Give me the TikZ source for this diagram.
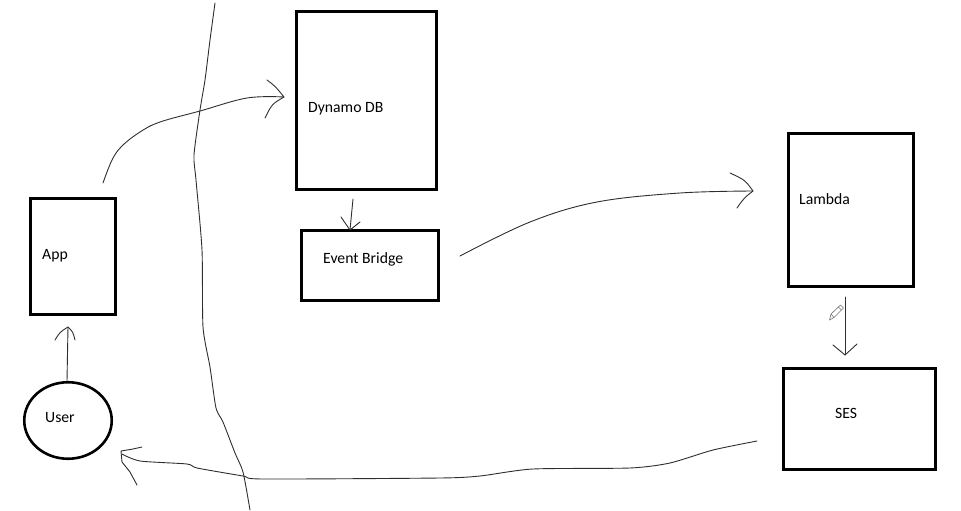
\documentclass[tikz,border=0pt]{standalone}
\usepackage{fontspec}
\setmainfont{Carlito}
\usetikzlibrary{shapes.geometric}
\tikzset{
  box/.style={draw=black, line width=3pt, inner sep=0pt, fill=none},
  usr/.style={draw=black, line width=2.6pt, ellipse, inner sep=0pt},
  lbl/.style={anchor=base west, inner sep=0pt, font=\fontsize{15.7}{17}\selectfont},
  pen/.style={draw=black!82, line width=0.9pt, line join=round, line cap=round},
}
\begin{document}
\begin{tikzpicture}[x=1pt,y=-1pt]
\useasboundingbox (0,0) rectangle (961,511);
% boxes
\node[box, minimum width=85pt, minimum height=116pt] (app) at (73,256.5) {};
\node[box, minimum width=140pt, minimum height=178pt] (ddb) at (366.5,100.5) {};
\node[box, minimum width=137pt, minimum height=70pt] (eb) at (370,265.5) {};
\node[box, minimum width=125pt, minimum height=153pt] (lam) at (851,210) {};
\node[box, minimum width=152pt, minimum height=101pt] (ses) at (859.5,419) {};
\node[usr, minimum width=87.5pt, minimum height=76.5pt] (user) at (68,420.5) {};
% labels
\node[lbl] (tapp) at (42,259) {App};
\node[lbl] (tuser) at (45,422) {User};
\node[lbl] (tddb) at (308,112) {Dynamo DB};
\node[lbl] (teb) at (323,263) {Event Bridge};
\node[lbl] (tlam) at (799,204) {Lambda};
\node[lbl] (tses) at (835,418) {SES};
% connector ends
\coordinate (ua) at (67,381);
\coordinate (ut) at (68,327);
\coordinate (as) at (103,183);
\coordinate (dt) at (284,97);
\coordinate (ds) at (353,199);
\coordinate (et) at (350,230);
\coordinate (es) at (460,256);
\coordinate (lt) at (753,191);
\coordinate (ls) at (845,297);
\coordinate (st) at (845,355);
\coordinate (ss) at (757,441);
\coordinate (ust) at (122,454);
% separator line
\draw[pen] plot[smooth, tension=0.4] coordinates {(215,3) (210,40) (205,80) (200,110) (194,155) (196,180) (202,250) (203,327) (210,367) (216,408) (223,422) (235,453) (243,472) (250,510)};
% User -> App
\draw[pen] (ua) -- (ut);
\draw[pen] (55,340) .. controls (60,332) .. (ut) .. controls (73,332) .. (75,340);
% App -> Dynamo DB
\draw[pen] plot[smooth, tension=0.6] coordinates {(as) (112,160) (122,146) (140,132) (160,122) (200,111) (247,98) (dt)};
\draw[pen] (267,80) .. controls (275,86) .. (dt) .. controls (272,104) .. (265,118);
% Dynamo DB -> Event Bridge
\draw[pen] (ds) -- (et);
\draw[pen] (341,217) -- (et) -- (360,222);
% Event Bridge -> Lambda
\draw[pen] plot[smooth, tension=0.6] coordinates {(es) (530,222) (597,202) (680,193) (lt)};
\draw[pen] (730,173) .. controls (745,180) .. (lt) .. controls (744,198) .. (737,208);
% Lambda -> SES
\draw[pen] (ls) -- (st);
\draw[pen] (833,345) -- (st) -- (857,344);
% SES -> User
\draw[pen] plot[smooth, tension=0.4] coordinates {(ss) (713,450) (670,463) (630,468) (533,469) (480,476) (440,478) (263,479) (243,476) (197,468) (187,464) (140,461) (ust)};
\draw[pen] (142,447) -- (133,449) -- (121,451) -- (122,462) -- (130,472) -- (137,485);
% pencil cursor
\draw[black!55, line width=0.6pt, fill=white, line join=round] (829.5,320) -- (831,314) -- (840.5,305) -- (843.5,308) -- (834,317.5) -- cycle;
\draw[black!55, line width=0.6pt] (831,314) -- (834,317.5);
\draw[black!55, line width=0.6pt] (838.5,307) -- (841.5,310);
\end{tikzpicture}
\end{document}
